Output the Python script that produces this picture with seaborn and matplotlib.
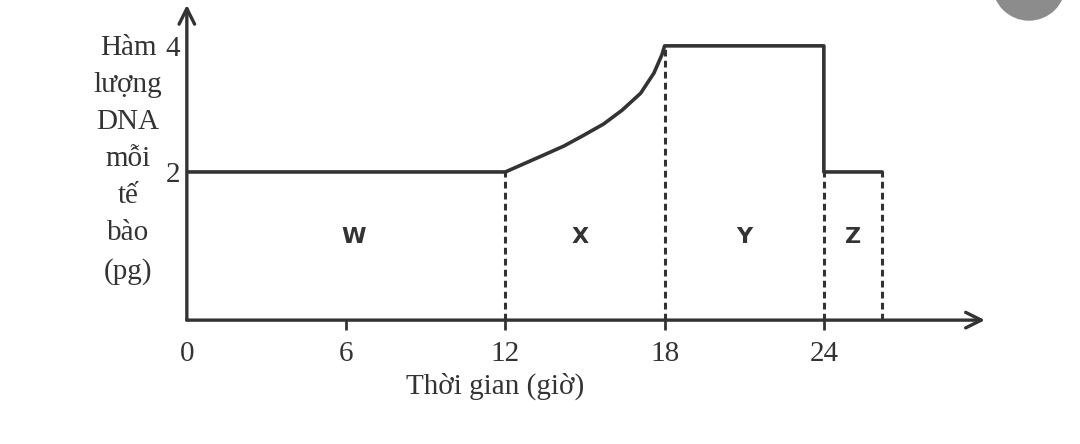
import matplotlib
matplotlib.use("Agg")
import matplotlib.pyplot as plt
import seaborn as sns
import pandas as pd
from matplotlib.patches import Ellipse

# DNA content per cell over time
hours = [0, 12, 12.7, 13.4, 14.2, 14.9, 15.7, 16.4, 17.1, 17.6, 17.9, 18, 24, 24, 26.2]
dna_pg = [2, 2, 2.13, 2.26, 2.41, 2.57, 2.76, 2.98, 3.25, 3.57, 3.86, 4, 4, 2, 2]

phase_bounds = [12, 18, 24, 26.2]
bound_levels = [2, 4, 2, 2]
phase_names = ["W", "X", "Y", "Z"]
phase_centers = [6.3, 14.8, 21.0, 25.1]

x_ticks = [0, 6, 12, 18, 24]
y_ticks = [2, 4]

y_label_lines = ["Hàm", "lượng", "DNA", "mỗi", "tế", "bào", "(pg)"]
x_label = "Thời gian (giờ)"

ink = "#333333"
serif = ["Liberation Serif", "DejaVu Serif"]

sns.set_theme(style="white")
plt.rcParams["font.family"] = serif

df = pd.DataFrame({"t": hours, "dna": dna_pg})

fig = plt.figure(figsize=(10.8, 4.44), dpi=100)
ax = fig.add_axes([0.173, 0.279, 0.912 - 0.173, 0.989 - 0.279])

ymin, ymax = -0.35, 4.65
ax.set_xlim(0, 30.07)
ax.set_ylim(ymin, ymax)

sns.lineplot(data=df, x="t", y="dna", sort=False, estimator=None,
             color=ink, linewidth=2.6, ax=ax)
for ln in ax.lines:
    ln.set_solid_joinstyle("round")

# dotted drop lines marking the phases
ax.vlines(phase_bounds, ymin, bound_levels, colors=ink,
          linestyles=(0, (2.2, 1.4)), linewidth=2.2)

for name, xc in zip(phase_names, phase_centers):
    ax.text(xc, 0.97, name, ha="center", va="center", fontsize=16,
            fontweight="bold", color=ink, family="DejaVu Sans")

# axes as arrows
for spine in ax.spines.values():
    spine.set_visible(False)
arrow = dict(arrowstyle="->", lw=2.4, color=ink, mutation_scale=28,
             shrinkA=0, shrinkB=0)
ax.annotate("", xy=(1, 0), xytext=(0, 0), xycoords="axes fraction",
            arrowprops=arrow)
ax.annotate("", xy=(0, 1), xytext=(0, 0), xycoords="axes fraction",
            arrowprops=arrow)

ax.set_xticks(x_ticks)
ax.set_xticklabels([str(v) for v in x_ticks])
ax.set_yticks(y_ticks)
ax.set_yticklabels([str(v) for v in y_ticks])
ax.tick_params(axis="x", length=7, width=2, color=ink, pad=8,
               labelsize=21, labelcolor=ink, direction="out", bottom=True)
ax.tick_params(axis="y", length=0, pad=5, labelsize=21, labelcolor=ink, left=True)
ax.xaxis.get_major_ticks()[0].tick1line.set_visible(False)

ax.set_xlabel(x_label, fontsize=21, color=ink, va="center")
ax.xaxis.set_label_coords((495 - 187) / (985 - 187), -(386 - 320) / 315)
ax.set_ylabel("")

fig.text(128 / 1080, 1 - 160 / 444, "\n".join(y_label_lines), ha="center",
         va="center", fontsize=21, color=ink, linespacing=1.55,
         multialignment="center")

# grey blob in the top right corner of the screenshot
fig.add_artist(Ellipse((1029 / 1080, 1 + 16 / 444), 72 / 1080, 72 / 444,
                       transform=fig.transFigure, color="#8c8c8c", clip_on=False))

fig.savefig("out.png", dpi=100, facecolor="white")
